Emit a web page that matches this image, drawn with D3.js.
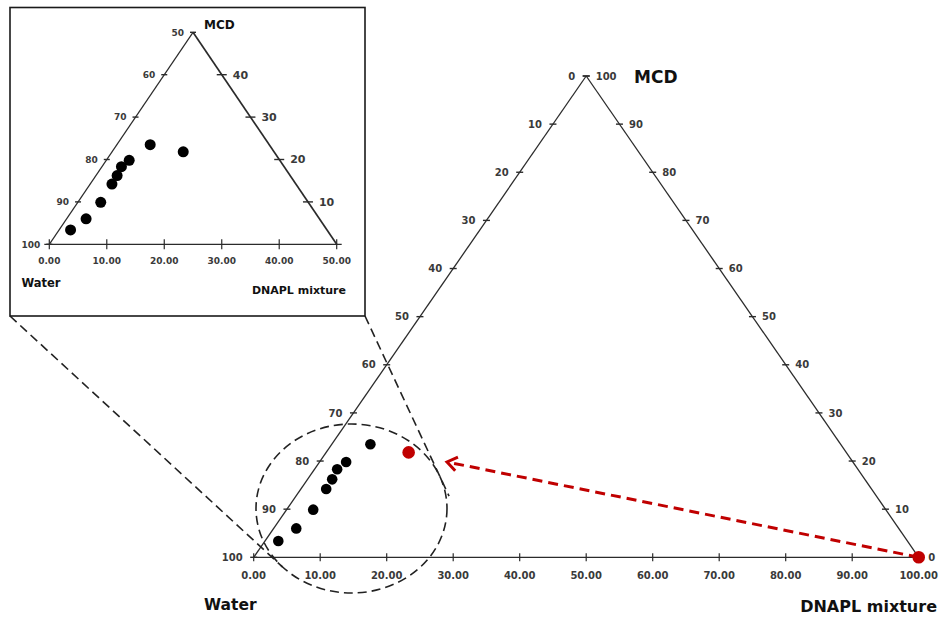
<!DOCTYPE html>
<html>
<head>
<meta charset="utf-8">
<script src="https://cdn.jsdelivr.net/npm/d3@7"></script>
<style>
  body { margin: 0; background: #fff; }
  text { font-family: "DejaVu Sans", Verdana, sans-serif; font-weight: bold; }
</style>
</head>
<body>
<svg id="chart" width="941" height="619"></svg>
<script>
// Sample compositions (percent)
const dnaplPct = [2.0, 3.4, 4.0, 3.8, 3.7, 3.4, 4.0, 5.8, 12.4];
const mcdPct   = [3.4, 6.0, 9.9, 14.2, 16.2, 18.3, 19.8, 23.5, 21.8];
const waterPct = [94.6, 90.6, 86.1, 82.0, 80.1, 78.3, 76.2, 70.7, 65.8];
// sample shown in red on the full diagram
const highlightIndex = 8;
// pure DNAPL mixture end member
const endDnapl = [100];
const endMcd = [0];
const endWater = [0];

// Tick labels
const mainBottomTicks = [0, 10, 20, 30, 40, 50, 60, 70, 80, 90, 100];
const mainWaterTicks  = [100, 90, 80, 70, 60, 50, 40, 30, 20, 10, 0];
const mainMcdTicks    = [0, 10, 20, 30, 40, 50, 60, 70, 80, 90, 100];
const insetBottomTicks = [0, 10, 20, 30, 40, 50];
const insetWaterTicks  = [100, 90, 80, 70, 60, 50];
const insetMcdTicks    = [10, 20, 30, 40];

const svg = d3.select("#chart");
const ink = "#2b2b2b";
const labelInk = "#3a3a3a";
const red = "#c00000";

// Ternary projection: bottom axis = DNAPL + MCD/2, height = MCD
function ternary(x0, x1, yBase, yTop, max) {
  const x = d3.scaleLinear().domain([0, max]).range([x0, x1]);
  const y = d3.scaleLinear().domain([0, max]).range([yBase, yTop]);
  return { x, y, max, pt: (d, m) => [x(d + m / 2), y(m)] };
}

const samples = dnaplPct.map((d, i) => {
  const s = d + mcdPct[i] + waterPct[i];
  return { d: d * 100 / s, m: mcdPct[i] * 100 / s, w: waterPct[i] * 100 / s, i };
});

function drawTriangle(g, T, opt) {
  const max = T.max;
  const A = T.pt(0, 0), B = T.pt(max, 0), C = T.pt(0, max);
  // base line (slightly past the vertices)
  g.append("line").attr("x1", A[0] - opt.baseExt).attr("x2", B[0] + opt.baseExt)
    .attr("y1", A[1]).attr("y2", A[1]).attr("stroke", ink).attr("stroke-width", opt.sw);
  g.append("line").attr("x1", A[0]).attr("y1", A[1]).attr("x2", C[0]).attr("y2", C[1])
    .attr("stroke", ink).attr("stroke-width", opt.sw);
  g.append("line").attr("x1", B[0]).attr("y1", B[1]).attr("x2", C[0]).attr("y2", C[1])
    .attr("stroke", ink).attr("stroke-width", opt.swRight);

  // bottom axis
  opt.bottomTicks.forEach(v => {
    const [x, y] = T.pt(v, 0);
    g.append("line").attr("x1", x).attr("x2", x).attr("y1", y - opt.bt).attr("y2", y + opt.bt)
      .attr("stroke", ink).attr("stroke-width", 1.2);
    g.append("text").attr("x", x).attr("y", y + opt.bottomDy).attr("text-anchor", "middle")
      .attr("font-size", opt.bottomFs).attr("fill", labelInk).text(d3.format(".2f")(v));
  });
  // left edge (Water)
  opt.waterTicks.forEach(v => {
    const [x, y] = T.pt(0, 100 - v);
    g.append("line").attr("x1", x - opt.lt).attr("x2", x + opt.lt).attr("y1", y).attr("y2", y)
      .attr("stroke", ink).attr("stroke-width", 1.4);
    g.append("text").attr("x", x - opt.leftDx).attr("y", y).attr("dy", "0.36em")
      .attr("text-anchor", "end").attr("font-size", opt.leftFs).attr("fill", labelInk).text(v);
  });
  // right edge (MCD)
  opt.mcdTicks.forEach(v => {
    const [x, y] = T.pt(max - v, v);
    g.append("line").attr("x1", x - opt.rt).attr("x2", x + opt.rt).attr("y1", y).attr("y2", y)
      .attr("stroke", ink).attr("stroke-width", 1.4);
    g.append("text").attr("x", x + opt.rightDx).attr("y", y).attr("dy", "0.36em")
      .attr("text-anchor", "start").attr("font-size", opt.rightFs).attr("fill", labelInk).text(v);
  });
}

// ---------- main diagram ----------
const M = ternary(253.7, 918.7, 557.3, 76, 100);
const gMain = svg.append("g");

// zoom region outline and connectors to the inset
const ell = { cx: 351.5, cy: 508.5, rx: 95.5, ry: 84.5 };
const box = { x0: 10, y0: 7.5, x1: 365, y1: 316 };

function tangentPoints(px, py) {
  const ux = (px - ell.cx) / ell.rx, uy = (py - ell.cy) / ell.ry;
  const r = Math.hypot(ux, uy), a = Math.atan2(uy, ux), b = Math.acos(1 / r);
  return [a - b, a + b].map(t => [ell.cx + ell.rx * Math.cos(t), ell.cy + ell.ry * Math.sin(t)]);
}
// extend a connector a little past its tangent point
function extend(p0, p1, extra) {
  const dx = p1[0] - p0[0], dy = p1[1] - p0[1], L = Math.hypot(dx, dy);
  return [p1[0] + dx / L * extra, p1[1] + dy / L * extra];
}
const tl = tangentPoints(box.x0, box.y1);
const tr = tangentPoints(box.x1, box.y1);
const leftEnd = tl.reduce((p, q) => (q[1] > p[1] ? q : p));
const rightEnd = extend([box.x1, box.y1], tr.reduce((p, q) => (q[0] > p[0] ? q : p)), 22);

const dash = "9,5";
svg.append("ellipse").attr("cx", ell.cx).attr("cy", ell.cy).attr("rx", ell.rx).attr("ry", ell.ry)
  .attr("fill", "none").attr("stroke", "#222").attr("stroke-width", 1.6).attr("stroke-dasharray", dash);
svg.append("line").attr("x1", box.x0).attr("y1", box.y1).attr("x2", leftEnd[0]).attr("y2", leftEnd[1])
  .attr("stroke", "#222").attr("stroke-width", 1.6).attr("stroke-dasharray", dash);
svg.append("line").attr("x1", box.x1).attr("y1", box.y1).attr("x2", rightEnd[0]).attr("y2", rightEnd[1])
  .attr("stroke", "#222").attr("stroke-width", 1.6).attr("stroke-dasharray", dash);

drawTriangle(gMain, M, {
  sw: 1.3, swRight: 1.3, baseExt: 0,
  bottomTicks: mainBottomTicks, waterTicks: mainWaterTicks, mcdTicks: mainMcdTicks,
  bt: 4, lt: 3.5, rt: 3.5,
  bottomDy: 22, bottomFs: 10, leftDx: 11, leftFs: 10, rightDx: 9.5, rightFs: 10
});

// arrow from the DNAPL end member toward the zoomed region
const endPt = M.pt(endDnapl[0], endMcd[0]);
const tip = [ell.cx + ell.rx, ell.cy - 46.5];
svg.append("line").attr("x1", endPt[0]).attr("y1", endPt[1]).attr("x2", tip[0] + 4).attr("y2", tip[1] + 0.8)
  .attr("stroke", red).attr("stroke-width", 3).attr("stroke-dasharray", "10,6");
{
  const ang = Math.atan2(endPt[1] - tip[1], endPt[0] - tip[0]);
  const len = 12, spread = 0.62;
  const a1 = [tip[0] + len * Math.cos(ang - spread), tip[1] + len * Math.sin(ang - spread)];
  const a2 = [tip[0] + len * Math.cos(ang + spread), tip[1] + len * Math.sin(ang + spread)];
  svg.append("path").attr("d", d3.line()([a1, tip, a2]))
    .attr("fill", "none").attr("stroke", red).attr("stroke-width", 3).attr("stroke-linejoin", "miter");
}

gMain.selectAll("circle.s").data(samples).join("circle").attr("class", "s")
  .attr("cx", d => M.pt(d.d, d.m)[0]).attr("cy", d => M.pt(d.d, d.m)[1])
  .attr("r", d => d.i === highlightIndex ? 6.3 : 5.3)
  .attr("fill", d => d.i === highlightIndex ? red : "#000");
gMain.append("circle").attr("cx", endPt[0]).attr("cy", endPt[1]).attr("r", 6.3).attr("fill", red);

svg.append("text").attr("x", 634).attr("y", 83).attr("font-size", 17).attr("fill", "#111").text("MCD");
svg.append("text").attr("x", 204).attr("y", 610).attr("font-size", 15.5).attr("fill", "#111").text("Water");
svg.append("text").attr("x", 937).attr("y", 612).attr("text-anchor", "end").attr("font-size", 16).attr("fill", "#111").text("DNAPL mixture");

// ---------- inset: lower-left half of the diagram ----------
svg.append("rect").attr("x", box.x0).attr("y", box.y0).attr("width", box.x1 - box.x0).attr("height", box.y1 - box.y0)
  .attr("fill", "none").attr("stroke", "#1a1a1a").attr("stroke-width", 1.6);

const I = ternary(49.3, 336.7, 244.3, 32.3, 50);
const gInset = svg.append("g");
drawTriangle(gInset, I, {
  sw: 1.2, swRight: 1.7, baseExt: 5,
  bottomTicks: insetBottomTicks, waterTicks: insetWaterTicks, mcdTicks: insetMcdTicks,
  bt: 5, lt: 3, rt: 5,
  bottomDy: 19.5, bottomFs: 9, leftDx: 9, leftFs: 9, rightDx: 11, rightFs: 11
});
gInset.selectAll("circle.s").data(samples).join("circle").attr("class", "s")
  .attr("cx", d => I.pt(d.d, d.m)[0]).attr("cy", d => I.pt(d.d, d.m)[1])
  .attr("r", 5.5).attr("fill", "#000");

svg.append("text").attr("x", 204).attr("y", 28.5).attr("font-size", 12).attr("fill", "#111").text("MCD");
svg.append("text").attr("x", 21.5).attr("y", 287).attr("font-size", 11.5).attr("fill", "#111").text("Water");
svg.append("text").attr("x", 346).attr("y", 294).attr("text-anchor", "end").attr("font-size", 11).attr("fill", "#111").text("DNAPL mixture");
</script>
</body>
</html>
